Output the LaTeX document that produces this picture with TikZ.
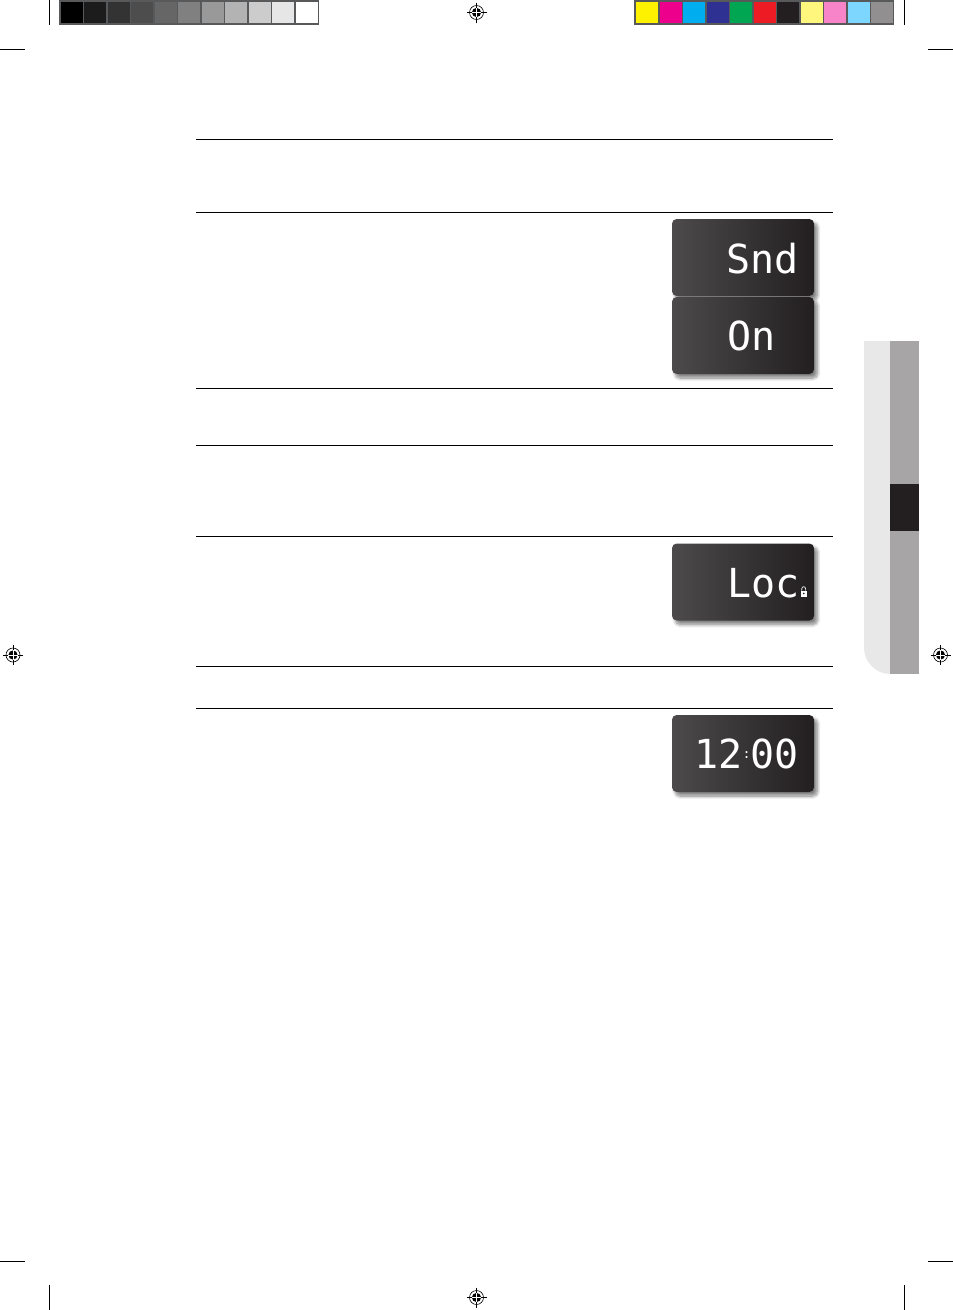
\documentclass[tikz,border=0pt]{standalone}
\usepackage{xcolor}
\usepackage{fontspec}
\usepackage{tikz}
\usetikzlibrary{positioning, shadows.blur}
\newfontfamily\lcdfont{DejaVu Sans Mono}
\definecolor{barframe}{HTML}{58595B}
\definecolor{tabgray}{HTML}{A7A5A6}
\definecolor{tablight}{HTML}{E8E8E9}
\definecolor{tabdark}{HTML}{231F20}
\definecolor{lcdleft}{HTML}{4C4A4B}
\definecolor{lcdright}{HTML}{231F20}
\tikzset{
  lcdbox/.style={minimum width=142*0.75pt, minimum height=77*0.75pt, inner sep=0pt,
    rounded corners=3.5pt, left color=lcdleft, right color=lcdright,
    blur shadow={shadow xshift=2.5pt, shadow yshift=-3pt, shadow blur radius=2.5pt, shadow blur steps=8, shadow opacity=50}},
  lcdtext/.style={anchor=base east, inner sep=0pt, text=white, font=\lcdfont\fontsize{30}{30}\selectfont},
  rulerow/.style={draw=black, line width=0.55pt},
  cropmark/.style={draw=black, line width=0.6pt},
  regmark/.pic={
    \draw[line width=0.45pt] (0,0) circle (7);
    \draw[line width=0.6pt] (-10,0) -- (10,0) (0,-10) -- (0,10);
    \fill (0,0) circle (4.6);
    \draw[white, line width=0.5pt] (-4.6,0) -- (4.6,0) (0,-4.6) -- (0,4.6);
  }
}
\begin{document}
\begin{tikzpicture}[x=0.75pt, y=-0.75pt]
  \useasboundingbox (0,0) rectangle (953,1310);

  \fill[barframe] (59,0) rectangle (319,24.5);
  \foreach \cellcolor [count=\i from 0] in {000000,1C1C1C,333333,4D4D4D,666666,808080,999999,B3B3B3,CCCCCC,E6E6E6,FFFFFF} {
    \definecolor{cellfill}{HTML}{\cellcolor}
    \fill[cellfill] (61+23.45*\i,2) rectangle +(22,21);
  }
  \fill[barframe] (634,0) rectangle (894,24.5);
  \foreach \cellcolor [count=\i from 0] in {FFF200,EC008C,00AEEF,2E3192,00A651,ED1C24,231F20,FFF77D,F783C9,7DD6FD,918F90} {
    \definecolor{cellfill}{HTML}{\cellcolor}
    \fill[cellfill] (636+23.5*\i,2) rectangle +(22,21);
  }

  \draw[cropmark] (49.5,0) -- (49.5,25) (904.5,0) -- (904.5,25);
  \draw[cropmark] (0,49.5) -- (25,49.5) (928,49.5) -- (953,49.5);
  \draw[cropmark] (0,1261) -- (25,1261) (928,1261) -- (953,1261);
  \draw[cropmark] (49.5,1285) -- (49.5,1310) (904.5,1285) -- (904.5,1310);

  \pic at (476.5,12.5) {regmark};
  \pic at (476.5,1297.5) {regmark};
  \pic at (13,655) {regmark};
  \pic at (940.5,655) {regmark};

  \foreach \rowy in {139.5,212.5,388.5,445.5,536.5,666.5,708.5}
    \draw[rulerow] (196,\rowy) -- (833,\rowy);

  \fill[tablight] (890,341) -- (864,341) -- (864,648) .. controls (864,662) and (876,674) .. (890,674) -- cycle;
  \fill[tabgray] (890,341) rectangle (919,674);
  \fill[tabdark] (890,484) rectangle (919,531);

  \node[lcdbox] (sndbox) at (743,257.5) {};
  \node[lcdbox] (onbox) at (743,335.5) {};
  \node[lcdbox] (locbox) at (743,582) {};
  \node[lcdbox] (clockbox) at (743,753.5) {};

  \node[lcdtext] (sndtext) at (799,273) {Snd};
  \node[lcdtext, anchor=base west] (ontext) at (727,350) {On};
  \node[lcdtext, anchor=base west] (loctext) at (727,597) {Loc};
  \node[lcdtext] (clocktext) at (799,768) {12\raisebox{7pt}{\fontsize{10}{10}\selectfont:}00};

  \fill[white] (800.5,590.5) rectangle (807,596.5);
  \draw[white, line width=0.5pt] (801.8,590.5) -- (801.8,588.8) .. controls (801.8,586) and (805.6,586) .. (805.6,588.8) -- (805.6,590.5);
  \fill[lcdright] (803.75,593.4) circle (0.9);
\end{tikzpicture}
\end{document}
